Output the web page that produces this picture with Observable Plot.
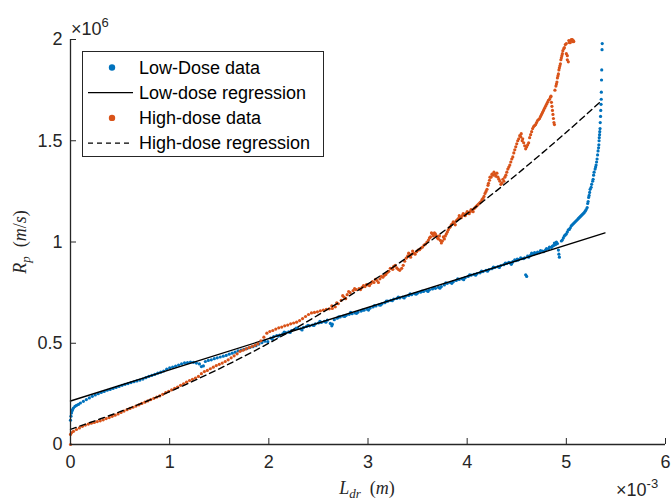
<!DOCTYPE html>
<html><head><meta charset="utf-8">
<script src="https://cdn.jsdelivr.net/npm/d3@7"></script>
<script src="https://cdn.jsdelivr.net/npm/@observablehq/plot@0.6"></script>
<style>
html,body{margin:0;padding:0;background:#fff;}
#wrap{position:relative;width:671px;height:501px;}
</style></head><body><div id="wrap"></div><script>
// x in units of 1e-3 m, y in units of 1e6 m/s
const lowDose = [[0,0.12],[0.005,0.14],[0.01,0.155],[0.015,0.165],[0.02,0.172],[0.03,0.18],[0.045,0.188],[0.06,0.193],[0.08,0.198],[0.1,0.205],[0.13,0.213],[0.16,0.222],[0.19,0.23],[0.22,0.238],[0.25,0.245],[0.28,0.251],[0.31,0.257],[0.34,0.262],[0.37,0.268],[0.4,0.272],[0.43,0.277],[0.46,0.282],[0.49,0.287],[0.52,0.292],[0.55,0.297],[0.58,0.301],[0.61,0.306],[0.64,0.31],[0.67,0.314],[0.7,0.318],[0.73,0.323],[0.76,0.33],[0.79,0.336],[0.82,0.341],[0.85,0.346],[0.88,0.352],[0.91,0.357],[0.94,0.363],[0.97,0.372],[1.0,0.378],[1.03,0.382],[1.06,0.387],[1.09,0.392],[1.12,0.398],[1.15,0.403],[1.18,0.404],[1.21,0.407],[1.24,0.406],[1.27,0.402],[1.3,0.398],[1.32,0.385],[1.34,0.388],[1.36,0.41],[1.39,0.415],[1.42,0.418],[1.45,0.424],[1.48,0.428],[1.51,0.432],[1.54,0.436],[1.57,0.44],[1.6,0.446],[1.63,0.451],[1.66,0.456],[1.69,0.462],[1.72,0.466],[1.75,0.47],[1.78,0.474],[1.81,0.479],[1.84,0.483],[1.87,0.488],[1.9,0.496],[1.93,0.503],[1.96,0.51],[1.99,0.508],
  [2.02,0.526],[2.05,0.533],[2.08,0.538],[2.11,0.54],[2.14,0.546],[2.17,0.552],[2.2,0.556],[2.23,0.563],[2.26,0.568],[2.29,0.573],[2.32,0.571],[2.35,0.578],[2.38,0.583],[2.41,0.586],[2.44,0.59],[2.47,0.596],[2.5,0.6],[2.53,0.603],[2.56,0.608],[2.59,0.614],[2.62,0.598],[2.64,0.594],[2.66,0.616],[2.69,0.624],[2.72,0.63],[2.75,0.634],[2.78,0.638],[2.81,0.643],[2.84,0.646],[2.87,0.65],[2.9,0.654],[2.93,0.659],[2.96,0.663],[2.99,0.668],[3.02,0.673],[3.05,0.679],[3.08,0.684],[3.11,0.69],[3.14,0.694],[3.17,0.7],[3.2,0.708],[3.23,0.712],[3.26,0.718],[3.29,0.721],[3.32,0.724],[3.35,0.728],[3.38,0.732],[3.41,0.736],[3.44,0.74],[3.47,0.745],[3.5,0.748],[3.53,0.752],[3.56,0.756],[3.59,0.76],[3.62,0.764],[3.65,0.768],[3.68,0.771],[3.71,0.776],[3.74,0.78],[3.77,0.788],[3.8,0.796],[3.83,0.8],[3.86,0.804],[3.89,0.81],[3.92,0.815],[3.95,0.818],[3.98,0.824],[4.01,0.83],[4.04,0.836],[4.07,0.84],[4.1,0.844],[4.13,0.848],[4.16,0.854],[4.19,0.86],[4.22,0.864],[4.25,0.868],[4.28,0.874],[4.31,0.878],[4.34,0.884],[4.37,0.888],[4.4,0.894],[4.43,0.898],[4.46,0.903],[4.49,0.908],[4.52,0.913],[4.55,0.918],[4.58,0.922],[4.59,0.838],[4.6,0.83],[4.61,0.93],[4.64,0.935],[4.67,0.94],[4.7,0.944],[4.73,0.948],[4.76,0.955],[4.79,0.96],[4.82,0.966],[4.85,0.973],[4.87,0.982],[4.89,0.987],[4.91,0.992],[4.92,0.96],[4.925,0.94],[4.93,0.925],[4.95,1.005],[4.97,1.02],[4.99,1.035],[5.01,1.05],[5.03,1.062],[5.05,1.08],[5.07,1.09],[5.09,1.1],[5.11,1.11],[5.13,1.12],[5.15,1.13],[5.17,1.14],[5.19,1.152],[5.21,1.17],[5.22,1.2],[5.23,1.23],[5.24,1.26],[5.255,1.285],[5.27,1.31],[5.28,1.345],[5.295,1.37],[5.305,1.395],[5.315,1.43],[5.325,1.465],[5.33,1.5],[5.335,1.53],[5.34,1.56],[5.342,1.59],[5.345,1.62],[5.347,1.65],[5.35,1.68],[5.352,1.705],[5.353,1.74],[5.355,1.8],[5.357,1.85],[5.36,1.95],[5.362,1.98],
  [2.035,0.52],[2.095,0.535],[2.155,0.555],[2.215,0.553],[2.275,0.575],[2.335,0.566],[2.395,0.588],[2.455,0.588],[2.515,0.608],[2.575,0.604],[2.635,0.586],[2.705,0.63],[2.765,0.632],[2.825,0.652],[2.885,0.648],[2.945,0.664],[3.005,0.664],[3.065,0.686],[3.125,0.688],[3.185,0.708],[3.245,0.71],[3.305,0.728],[3.365,0.724],[3.425,0.744],[3.485,0.742],[3.545,0.758],[3.605,0.756],[3.665,0.774],[3.725,0.772],[3.785,0.798],[3.845,0.796],[3.905,0.818],[3.965,0.814],[4.025,0.838],[4.085,0.836],[4.145,0.856],[4.205,0.856],[4.265,0.876],[4.325,0.874],[4.385,0.896],[4.445,0.89],[4.505,0.915],
  [4.42,0.9],[4.45,0.895],[4.48,0.912],[4.51,0.91],[4.54,0.922],[4.57,0.918],[4.62,0.925],[4.65,0.945],[4.68,0.948],[4.71,0.95],[4.74,0.958],[4.77,0.952],[4.8,0.968],[4.83,0.975],[4.86,0.98],[4.88,0.995],[4.9,1.0],[4.96,1.01],[4.98,1.03],[5.0,1.04],[5.02,1.06],[5.04,1.07],[5.06,1.085],[5.08,1.095],[5.1,1.105],[5.12,1.115],[5.14,1.125],[5.16,1.135],[5.18,1.145],[5.2,1.16],[5.215,1.19],[5.225,1.22],[5.235,1.245],[5.25,1.27],[5.265,1.3],[5.275,1.33],[5.29,1.36],[5.3,1.38],[5.31,1.41],[5.32,1.45],[5.328,1.48],[5.332,1.515],[5.337,1.545]];

const highDose = [[0,0],[0,0.05],[0.01,0.058],[0.03,0.065],[0.06,0.074],[0.09,0.082],[0.12,0.09],[0.15,0.096],[0.18,0.101],[0.21,0.105],[0.24,0.109],[0.27,0.113],[0.3,0.117],[0.33,0.122],[0.36,0.128],[0.39,0.133],[0.42,0.139],[0.45,0.145],[0.48,0.151],[0.51,0.158],[0.54,0.165],[0.57,0.172],[0.6,0.178],[0.63,0.184],[0.66,0.19],[0.69,0.196],[0.72,0.203],[0.75,0.209],[0.78,0.215],[0.81,0.222],[0.84,0.228],[0.87,0.234],[0.9,0.24],[0.93,0.248],[0.96,0.256],[0.99,0.263],[1.02,0.27],[1.05,0.277],[1.08,0.284],[1.11,0.292],[1.14,0.3],[1.17,0.308],[1.2,0.316],[1.23,0.322],[1.26,0.328],[1.29,0.336],[1.32,0.35],[1.35,0.36],[1.38,0.366],[1.41,0.374],[1.44,0.382],[1.47,0.39],[1.5,0.396],[1.53,0.402],[1.56,0.41],[1.59,0.418],[1.62,0.428],[1.65,0.438],[1.68,0.448],[1.71,0.46],[1.74,0.466],[1.77,0.472],[1.8,0.478],[1.83,0.484],[1.86,0.49],[1.89,0.497],[1.92,0.512],[1.95,0.53],[1.98,0.55],[2.01,0.558],[2.04,0.563],[2.07,0.57],[2.1,0.576],[2.13,0.58],[2.16,0.586],[2.19,0.59],[2.22,0.596],[2.25,0.6],[2.28,0.604],[2.31,0.612],[2.34,0.622],[2.37,0.632],[2.4,0.642],[2.43,0.65],[2.46,0.652],[2.49,0.655],[2.52,0.66],[2.55,0.664],[2.58,0.668],[2.61,0.67],[2.64,0.672],[2.67,0.68],[2.7,0.695],[2.73,0.712],[2.76,0.727],[2.79,0.74],[2.82,0.75],[2.85,0.76],[2.88,0.765],[2.91,0.77],[2.94,0.776],[2.97,0.78],[3.0,0.788],[3.03,0.795],[3.06,0.8],[3.09,0.81],[3.12,0.818],[3.15,0.826],[3.18,0.84],[3.21,0.855],[3.24,0.868],[3.26,0.88],[3.29,0.872],[3.32,0.86],[3.34,0.87],[3.37,0.905],[3.4,0.93],[3.42,0.935],[3.44,0.94],[3.46,0.945],[3.49,0.952],[3.52,0.962],[3.55,0.975],[3.58,0.99],[3.61,1.01],[3.63,1.025],[3.65,1.04],[3.67,1.045],[3.69,1.03],[3.71,1.015],[3.73,1.008],[3.75,1.005],[3.77,1.015],[3.79,1.04],[3.81,1.06],[3.83,1.075],[3.85,1.09],[3.87,1.095],[3.89,1.105],[3.91,1.115],[3.93,1.12],[3.95,1.13],[3.97,1.135],[3.99,1.14],[4.01,1.145],[4.03,1.15],[4.05,1.155],[4.07,1.165],[4.09,1.175],[4.11,1.185],[4.13,1.195],[4.15,1.21],[4.17,1.225],[4.19,1.25],[4.21,1.28],[4.225,1.305],[4.24,1.32],[4.26,1.33],[4.28,1.335],[4.3,1.34],[4.31,1.32],[4.33,1.3],[4.35,1.29],[4.37,1.3],[4.39,1.33],[4.41,1.36],[4.43,1.38],[4.45,1.41],[4.47,1.44],[4.49,1.47],[4.51,1.5],[4.53,1.525],[4.545,1.535],[4.56,1.51],[4.58,1.475],[4.6,1.47],[4.62,1.49],[4.64,1.53],[4.66,1.56],[4.68,1.575],[4.7,1.59],[4.72,1.605],[4.74,1.62],[4.76,1.64],[4.78,1.66],[4.8,1.68],[4.82,1.7],[4.84,1.715],[4.85,1.69],[4.86,1.65],[4.87,1.61],[4.88,1.58],[4.885,1.75],[4.9,1.78],[4.91,1.81],[4.92,1.83],[4.93,1.86],[4.94,1.88],[4.95,1.91],[4.96,1.93],[4.975,1.955],[4.99,1.975],[5.0,1.93],[5.01,1.9],[5.02,1.89],[5.03,1.985],[5.045,1.995],[5.06,2.0],[5.075,1.99],
  [2.635,0.685],[2.685,0.7],[2.745,0.735],[2.775,0.72],[2.805,0.755],[2.865,0.77],[2.925,0.765],[2.955,0.785],[2.985,0.79],[3.015,0.785],[3.045,0.805],[3.075,0.815],[3.105,0.8],[3.135,0.83],[3.165,0.835],[3.195,0.85],[3.225,0.87],[3.25,0.865],[3.275,0.885],[3.305,0.865],[3.355,0.885],[3.385,0.92],[3.41,0.945],[3.43,0.925],[3.45,0.955],[3.475,0.94],[3.505,0.96],[3.535,0.97],[3.565,0.985],[3.595,1.0],[3.62,1.02],[3.64,1.045],[3.66,1.03],[3.68,1.04],[3.7,1.02],[3.72,1.03],[3.74,0.995],[3.76,1.025],[3.78,1.03],[3.8,1.05],[3.82,1.07],[3.84,1.085],[3.86,1.1],[3.88,1.085],[3.9,1.11],[3.92,1.13],[3.94,1.12],[3.96,1.14],[3.98,1.13],[4.0,1.15],[4.02,1.14],[4.04,1.16],[4.06,1.15],[4.08,1.17],[4.1,1.18],[4.12,1.19],[4.14,1.2],[4.16,1.215],[4.18,1.24],[4.2,1.26],[4.215,1.29],[4.23,1.32],[4.25,1.335],[4.27,1.345],[4.29,1.325],[4.32,1.31],[4.34,1.285],[4.36,1.31],[4.38,1.32],[4.4,1.345],[4.42,1.37],[4.44,1.395],[4.46,1.42],[4.48,1.455],[4.5,1.485],[4.52,1.51],[4.54,1.52],[4.555,1.5],[4.57,1.49],[4.59,1.46],[4.61,1.48],[4.63,1.515],[4.65,1.545],[4.67,1.57],[4.69,1.58],[4.71,1.6],[4.73,1.61],[4.75,1.63],[4.77,1.65],[4.79,1.67],[4.81,1.69],[4.83,1.705],[4.845,1.72],[4.855,1.67],[4.865,1.63],[4.875,1.59],[4.895,1.77],[4.905,1.79],[4.915,1.82],[4.925,1.85],[4.935,1.87],[4.945,1.9],[4.955,1.92],[4.965,1.945],[4.98,1.96],[5.0,1.98],[5.01,1.92],[5.025,1.995],[5.04,1.985],[5.05,2.0],[5.065,1.99],[5.07,1.995]];

const lowDoseRegression = [[0,0.215],[5.39,1.045]];
const highDoseRegression = [[0,0.075],[0.5,0.162],[1,0.261],[1.5,0.374],[2,0.5],[2.5,0.64],[3,0.793],[3.5,0.96],[4,1.14],[4.5,1.334],[5,1.542],[5.36,1.7]];

const xTicks = [0,1,2,3,4,5,6];
const yTicks = [0,0.5,1,1.5,2];
const xTickLabels = ["0","1","2","3","4","5","6"];
const yTickLabels = ["0","0.5","1","1.5","2"];
const legendLabels = ["Low-Dose data","Low-dose regression","High-dose data","High-dose regression"];

const blue = "#0072BD", orange = "#D95319", ink = "#262626";
const font = "'Liberation Sans', Arial, Helvetica, sans-serif";
const serif = "'Liberation Serif', 'DejaVu Serif', serif";

const chart = Plot.plot({
  width: 671, height: 501,
  marginLeft: 70, marginRight: 6, marginTop: 39, marginBottom: 57,
  style: {fontFamily: font, fontSize: "18px", color: ink, background: "#fff", overflow: "visible"},
  x: {domain: [0, 6], label: null},
  y: {domain: [0, 2], label: null},
  marks: [
    Plot.dot(lowDose, {x: d => d[0], y: d => d[1], r: 1.6, fill: blue, stroke: "none"}),
    Plot.line(lowDoseRegression, {x: d => d[0], y: d => d[1], stroke: "#000", strokeWidth: 1.4}),
    Plot.dot(highDose, {x: d => d[0], y: d => d[1], r: 1.6, fill: orange, stroke: "none"}),
    Plot.line(highDoseRegression, {x: d => d[0], y: d => d[1], stroke: "#000", strokeWidth: 1.4, strokeDasharray: "6,4", curve: "catmull-rom"}),
    Plot.ruleX([0], {stroke: ink, strokeWidth: 1.3}),
    Plot.ruleY([0], {stroke: ink, strokeWidth: 1.3}),
    Plot.axisX({ticks: xTicks, tickFormat: (d) => xTickLabels[xTicks.indexOf(d)], tickSize: -6, tickPadding: 17, stroke: ink, fill: ink, fontSize: 18, label: null}),
    Plot.axisY({ticks: yTicks, tickFormat: (d) => yTickLabels[yTicks.indexOf(d)], tickSize: -6, tickPadding: 14, stroke: ink, fill: ink, fontSize: 18, label: null})
  ]
});
document.getElementById("wrap").appendChild(chart);

const svg = d3.select(chart);

// exponent labels
const e6 = svg.append("text").attr("x", 71).attr("y", 35).attr("text-anchor", "start").attr("fill", ink).attr("font-family", font).attr("font-size", 18);
e6.append("tspan").text("×10");
e6.append("tspan").attr("font-size", 13).attr("dy", -8).text("6");
const e3 = svg.append("text").attr("x", 616).attr("y", 496).attr("text-anchor", "start").attr("fill", ink).attr("font-family", font).attr("font-size", 18);
e3.append("tspan").text("×10");
e3.append("tspan").attr("font-size", 13).attr("dy", -8).text("-3");

// axis labels (LaTeX-like)
const xl = svg.append("text").attr("x", 367).attr("y", 494).attr("text-anchor", "middle").attr("fill", ink).attr("font-family", serif).attr("font-size", 18);
xl.append("tspan").attr("font-style", "italic").text("L");
xl.append("tspan").attr("font-style", "italic").attr("font-size", 13).attr("dy", 4).text("dr");
xl.append("tspan").attr("dy", -4).text("\u2002(");
xl.append("tspan").attr("font-style", "italic").text("m");
xl.append("tspan").text(")");

const yl = svg.append("text").attr("transform", "translate(26,242) rotate(-90)").attr("text-anchor", "middle").attr("fill", ink).attr("font-family", serif).attr("font-size", 18);
yl.append("tspan").attr("font-style", "italic").text("R");
yl.append("tspan").attr("font-style", "italic").attr("font-size", 13).attr("dy", 4).text("p");
yl.append("tspan").attr("dy", -4).text("\u2002(");
yl.append("tspan").attr("font-style", "italic").text("m");
yl.append("tspan").text("/");
yl.append("tspan").attr("font-style", "italic").text("s");
yl.append("tspan").text(")");

// legend
const lg = svg.append("g");
lg.append("rect").attr("x", 82.5).attr("y", 51.5).attr("width", 241).attr("height", 105)
  .attr("fill", "#fff").attr("stroke", ink).attr("stroke-width", 1);
legendLabels.forEach((label, i) => {
  const cy = 67.5 + i * 25.2;
  if (i % 2 === 0) {
    lg.append("circle").attr("cx", 112).attr("cy", cy).attr("r", 3.2).attr("fill", i === 0 ? blue : orange);
  } else {
    lg.append("line").attr("x1", 88).attr("x2", 133).attr("y1", cy).attr("y2", cy)
      .attr("stroke", "#000").attr("stroke-width", 1.3).attr("stroke-dasharray", i === 3 ? "5,4" : null);
  }
  lg.append("text").attr("x", 139).attr("y", cy + 6.3).attr("text-anchor", "start").attr("fill", "#000").attr("font-family", font).attr("font-size", 18).text(label);
});
</script></body></html>
